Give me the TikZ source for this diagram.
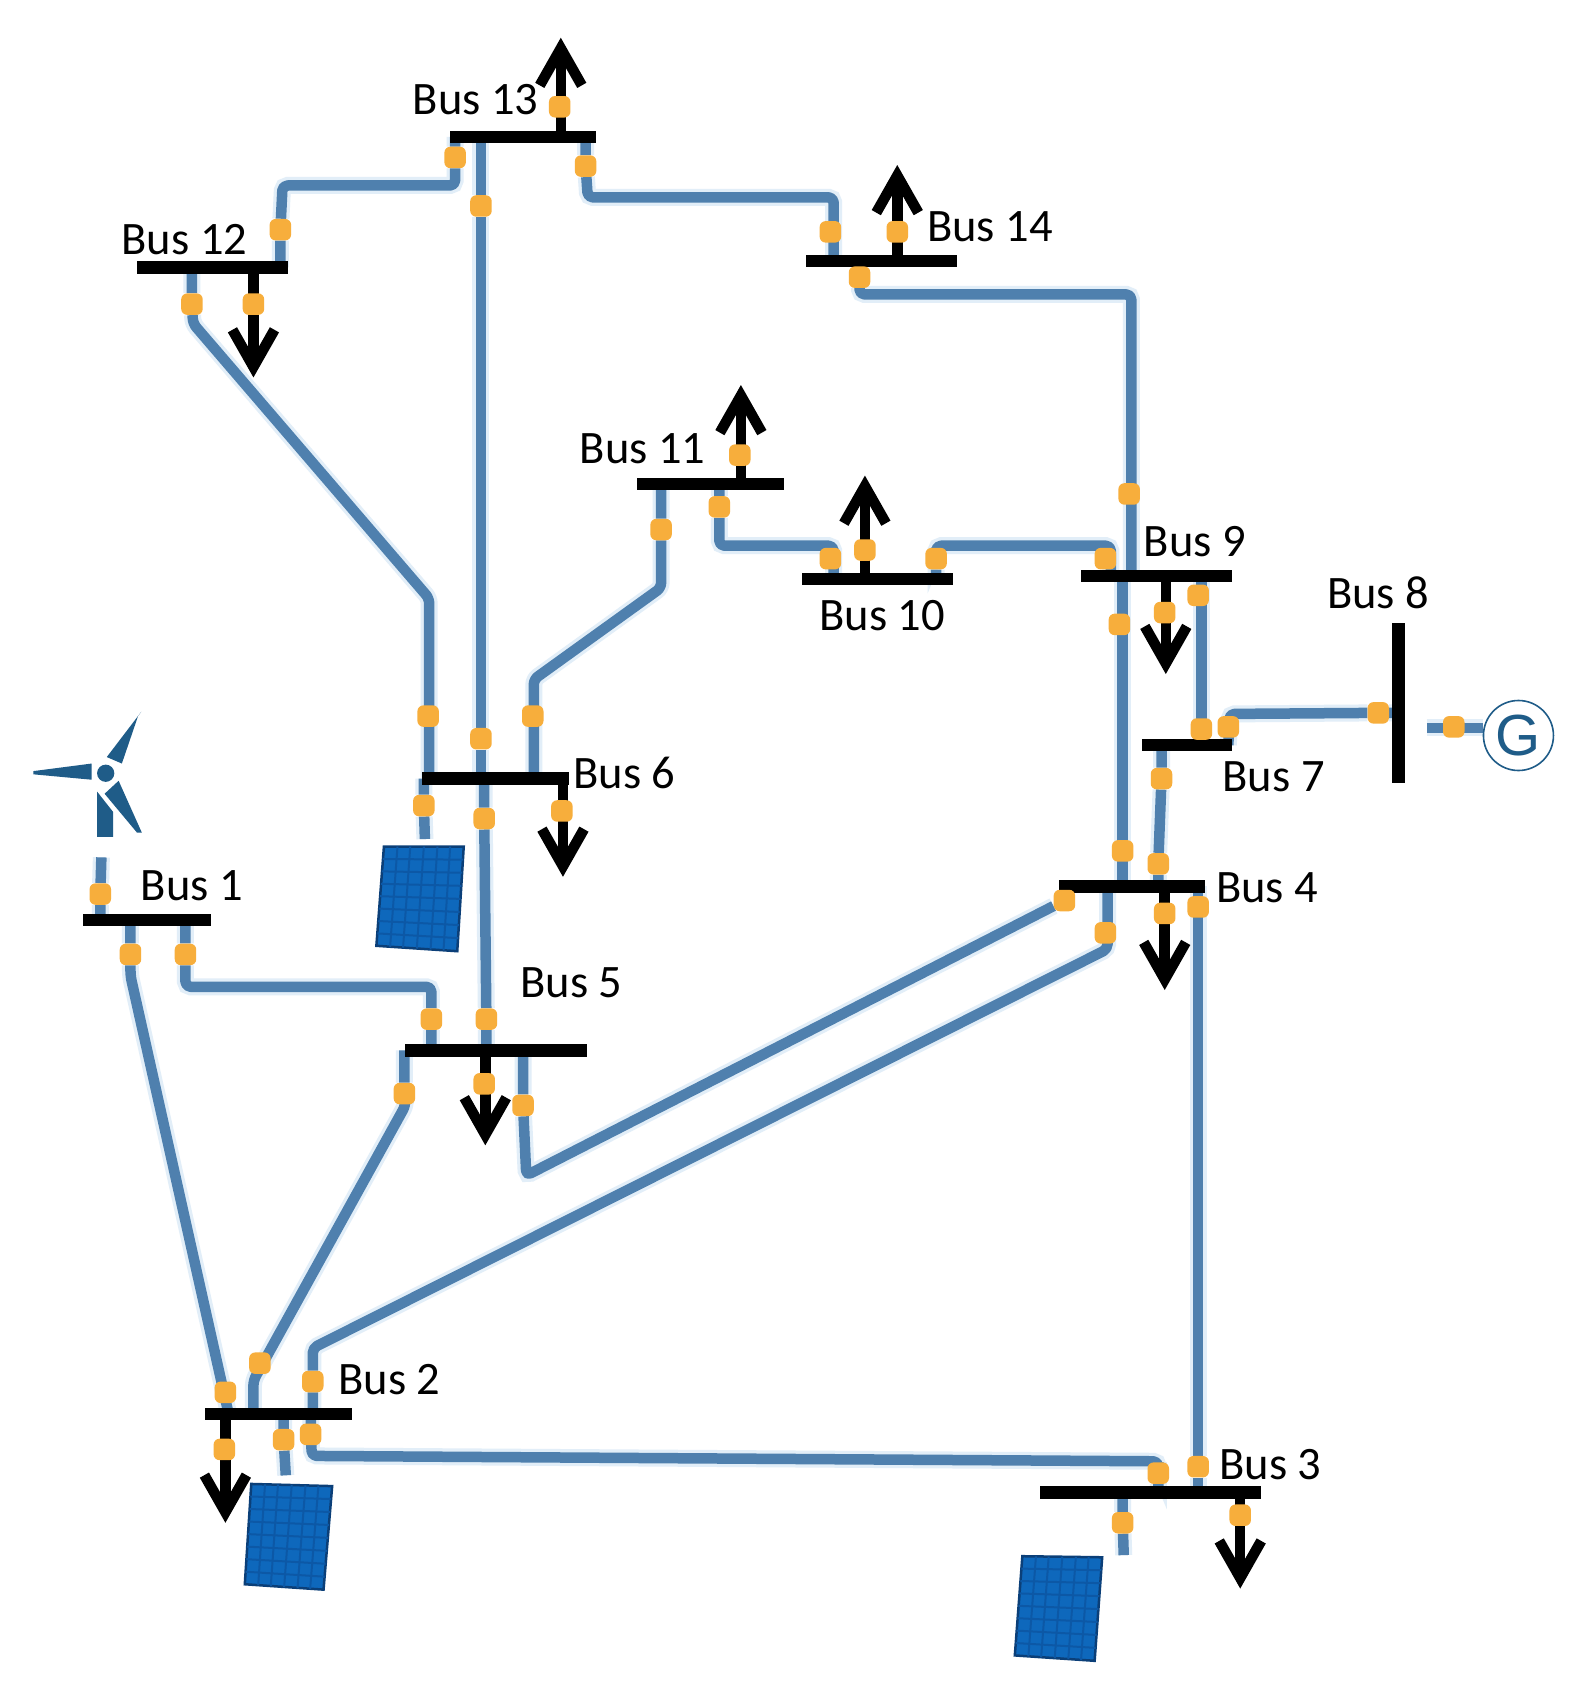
\documentclass[tikz,border=0pt]{standalone}
\usepackage{fontspec}
\setmainfont{Carlito}
\newfontfamily\gfont{Liberation Sans}
\usetikzlibrary{arrows.meta,calc,backgrounds}
\definecolor{wireblue}{HTML}{4F80AE}
\definecolor{wirehaze}{HTML}{E2EEF8}
\definecolor{dotorange}{HTML}{F7AE3C}
\definecolor{turbine}{HTML}{1F5C88}
\definecolor{panelfill}{HTML}{0E68BC}
\definecolor{panelgrid}{HTML}{0C58A6}
\definecolor{paneledge}{HTML}{0B3F78}
\tikzset{
  bush/.style={fill=black,minimum height=12.5pt,inner sep=0pt,draw=none},
  busv/.style={fill=black,minimum width=13pt,inner sep=0pt,draw=none},
  dotn/.style={rectangle,rounded corners=6pt,fill=dotorange,minimum size=21.5pt,inner sep=0pt,draw=none},
  wire/.style={draw=wireblue,line width=10.5pt,rounded corners=5pt,line join=round,
    preaction={draw=wirehaze,line width=17pt}},
  load/.style={draw=black,line width=10.5pt,
    -{Straight Barb[length=37pt,width=42pt,line width=10.5pt]}},
  buslabel/.style={font=\fontsize{46.5pt}{46.5pt}\selectfont,inner sep=0pt,text=black},
  blade/.style={fill=turbine,draw=none},
}
\newcommand{\panelgfx}[4]{%
  \fill[panelfill,draw=paneledge,line width=2.5pt] (#1)--(#2)--(#3)--(#4)--cycle;
  \foreach \t in {0.17,0.33,0.5,0.67,0.83}{\draw[panelgrid,line width=2pt] ($(#1)!\t!(#2)$)--($(#4)!\t!(#3)$);}
  \foreach \t in {0.125,0.25,0.375,0.5,0.625,0.75,0.875}{\draw[panelgrid,line width=2pt] ($(#1)!\t!(#4)$)--($(#2)!\t!(#3)$);}
}
\newcommand{\dotat}[3]{\node[dotn] (#1) at (#2,#3) {};}
\begin{document}
\begin{tikzpicture}[x=1.0784pt,y=-1.0784pt]
\useasboundingbox (0,0) rectangle (1467,1568);
% buses
\node[bush,minimum width=146pt] (b13) at (485,127) {};
\node[bush,minimum width=151pt] (b12) at (197,248) {};
\node[bush,minimum width=151pt] (b14) at (817,242) {};
\node[bush,minimum width=147pt] (b11) at (659,449) {};
\node[bush,minimum width=151pt] (b10) at (814,537) {};
\node[bush,minimum width=151pt] (b9) at (1072,534) {};
\node[busv,minimum height=160pt] (b8) at (1297,652) {};
\node[bush,minimum width=90pt] (b7) at (1101,691) {};
\node[bush,minimum width=147pt] (b6) at (459,722) {};
\node[bush,minimum width=128pt] (b1) at (136,853) {};
\node[bush,minimum width=146pt] (b4) at (1050,822) {};
\node[bush,minimum width=182pt] (b5) at (460,974) {};
\node[bush,minimum width=147pt] (b2) at (258,1311) {};
\node[bush,minimum width=221pt] (b3) at (1067,1384) {};
% labels
\node[buslabel] (l13) at (441,92) {Bus 13};
\node[buslabel] (l12) at (171,222) {Bus 12};
\node[buslabel] (l14) at (918,210) {Bus 14};
\node[buslabel] (l11) at (596,416) {Bus 11};
\node[buslabel] (l10) at (818,571) {Bus 10};
\node[buslabel] (l9) at (1108,502) {Bus 9};
\node[buslabel] (l8) at (1278,550) {Bus 8};
\node[buslabel] (l7) at (1181,720) {Bus 7};
\node[buslabel] (l6) at (579,717) {Bus 6};
\node[buslabel] (l1) at (178,821) {Bus 1};
\node[buslabel] (l4) at (1175,823) {Bus 4};
\node[buslabel] (l5) at (530,911) {Bus 5};
\node[buslabel] (l2) at (361,1279) {Bus 2};
\node[buslabel] (l3) at (1178,1358) {Bus 3};
% dots
\dotat{a1}{260}{213}\dotat{a2}{422}{146}
\dotat{c1}{446}{191}\dotat{c2}{446}{685}\dotat{c3}{449}{759}\dotat{c4}{451}{945}
\dotat{e1}{543}{154}\dotat{e2}{770}{215}
\dotat{f1}{797}{257}\dotat{f2}{1047}{458}
\dotat{g1}{178}{282}\dotat{g2}{397}{664}
\dotat{h1}{613}{491}\dotat{h2}{494}{664}
\dotat{i1}{667}{470}\dotat{i2}{770}{518}
\dotat{j1}{868}{518}\dotat{j2}{1025}{518}
\dotat{k1}{1038}{579}\dotat{k2}{1041}{789}
\dotat{m1}{1111}{552}\dotat{m2}{1114}{676}
\dotat{n1}{1139}{674}\dotat{n2}{1278}{661}
\dotat{o1}{1077}{722}\dotat{o2}{1074}{801}
\dotat{p1}{1348}{674}
\dotat{q1}{987}{835}\dotat{q2}{485}{1025}
\dotat{r1}{1025}{865}\dotat{r2}{290}{1281}
\dotat{s1}{1111}{841}\dotat{s2}{1111}{1360}
\dotat{d1}{288}{1330}\dotat{d2}{1074}{1366}
\dotat{u1}{121}{885}\dotat{u2}{209}{1291}
\dotat{v1}{172}{885}\dotat{v2}{400}{945}
\dotat{w1}{375}{1014}\dotat{w2}{241}{1264}
\dotat{x1}{393}{747}\dotat{x2}{263}{1335}\dotat{x3}{1041}{1412}\dotat{x4}{93}{829}
% load dots
\dotat{y13}{519}{99}\dotat{y14}{832}{215}\dotat{y11}{686}{422}\dotat{y10}{802}{510}
\dotat{y12}{235}{282}\dotat{y6}{521}{752}\dotat{y9}{1080}{568}\dotat{y4}{1080}{847}
\dotat{y5}{449}{1005}\dotat{y2}{208}{1344}\dotat{y3}{1150}{1405}
% generator
\node[circle,draw=turbine,line width=1.6pt,minimum size=70pt,inner sep=0pt,text=turbine,
  font=\gfont\fontsize{58pt}{58pt}\selectfont] (gen) at (1408,682) {G};
% free ends
\coordinate (sol6) at (394,778);
\coordinate (sol2) at (265,1368);
\coordinate (sol3) at (1042,1442);
\coordinate (wtb) at (94,795);
\coordinate (gl) at (1323,675);
\coordinate (tip13) at (520,35);
\coordinate (tip14) at (832,153);
\coordinate (tip11) at (687,357);
\coordinate (tip10) at (802,441);
\coordinate (tip12) at (235,350);
\coordinate (tip6) at (522,813);
\coordinate (tip9) at (1081,625);
\coordinate (tip4) at (1080,918);
\coordinate (tip5) at (450,1062);
\coordinate (tip2) at (209,1412);
\coordinate (tip3) at (1150,1473);
\begin{scope}[on background layer]
\fill[white] (0,0) rectangle (1467,1568);
% wires
\draw[wire] (a1|-b12) -- (a1) -- (262,172) -- (422,172) -- (a2) -- (a2|-b13);
\draw[wire] (c1|-b13) -- (c1) -- (c2) -- (c2|-b6);
\draw[wire] (c3|-b6) -- (c3) -- (c4) -- (c4|-b5);
\draw[wire] (e1|-b13) -- (e1) -- (545,183) -- (773,183) -- (773,242);
\draw[wire] (f1|-b14) -- (f1) -- (797,273) -- (1049,273) -- (1049,534);
\draw[wire] (g1|-b12) -- (g1) -- (179,300) -- (398,555) -- (398,722);
\draw[wire] (h1|-b11) -- (h1) -- (613,545) -- (495,630) -- (495,722);
\draw[wire] (i1|-b11) -- (i1) -- (667,506) -- (773,506) -- (773,537);
\draw[wire] (j1|-b10) -- (j1) -- (868,506) -- (1030,506) -- (1030,534);
\draw[wire] (k2|-b9) -- (k2|-b4);
\draw[wire] (m2|-b9) -- (m2|-b7);
\draw[wire] (n1|-b7) -- (1140,662) -- (n2) -- (n2-|b8);
\draw[wire] (o1|-b7) -- (o1) -- (o2) -- (o2|-b4);
\draw[wire] (gl) -- (gl-|gen.west);
\draw[wire] (q1) -- (488,1090) -- (q2) -- (q2|-b5);
\draw[wire] (1027,822) -- (1027,880) -- (290,1250) -- (r2) -- (r2|-b2);
\draw[wire] (s2|-b4) -- (s2) -- (s2|-b3);
\draw[wire] (d1|-b2) -- (289,1350) -- (1074,1355) -- (d2) -- (d2|-b3);
\draw[wire] (u1|-b1) -- (u1) -- (121,905) -- (212,1311);
\draw[wire] (v1|-b1) -- (v1) -- (172,915) -- (400,915) -- (v2) -- (v2|-b5);
\draw[wire] (w1|-b5) -- (w1) -- (376,1025) -- (235,1280) -- (235,1311);
\draw[wire] (x1|-b6) -- (x1) -- (sol6);
\draw[wire] (x2|-b2) -- (x2) -- (sol2);
\draw[wire] (x3|-b3) -- (x3) -- (sol3);
\draw[wire] (wtb) -- (x4) -- (x4|-b1);
% loads
\draw[load] (tip13|-b13) -- (tip13);
\draw[load] (tip14|-b14) -- (tip14);
\draw[load] (tip11|-b11) -- (tip11);
\draw[load] (tip10|-b10) -- (tip10);
\draw[load] (tip12|-b12) -- (tip12);
\draw[load] (tip6|-b6) -- (tip6);
\draw[load] (tip9|-b9) -- (tip9);
\draw[load] (tip4|-b4) -- (tip4);
\draw[load] (tip5|-b5) -- (tip5);
\draw[load] (tip2|-b2) -- (tip2);
\draw[load] (tip3|-b3) -- (tip3);
\end{scope}
% solar panels
\coordinate (pa) at (356,785);\coordinate (pb) at (430,785);\coordinate (pc) at (424,882);\coordinate (pd) at (349,877);
\panelgfx{pa}{pb}{pc}{pd}
\coordinate (qa) at (233,1376);\coordinate (qb) at (308,1378);\coordinate (qc) at (300,1474);\coordinate (qd) at (227,1469);
\panelgfx{qa}{qb}{qc}{qd}
\coordinate (ra) at (948,1443);\coordinate (rb) at (1022,1444);\coordinate (rc) at (1015,1540);\coordinate (rd) at (941,1535);
\panelgfx{ra}{rb}{rc}{rd}
% wind turbine
\fill[blade] (131,660)--(128,664)--(113,708)--(99,702)--cycle;
\fill[blade] (31,715)--(31,718)--(85,723)--(85,708)--cycle;
\fill[blade] (131.5,772)--(127,772)--(97,736)--(110,724)--cycle;
\fill[blade] (90,734)--(105,753)--(105,776)--(90,776)--cycle;
\fill[blade] (98,717) circle (8);
\end{tikzpicture}
\end{document}
